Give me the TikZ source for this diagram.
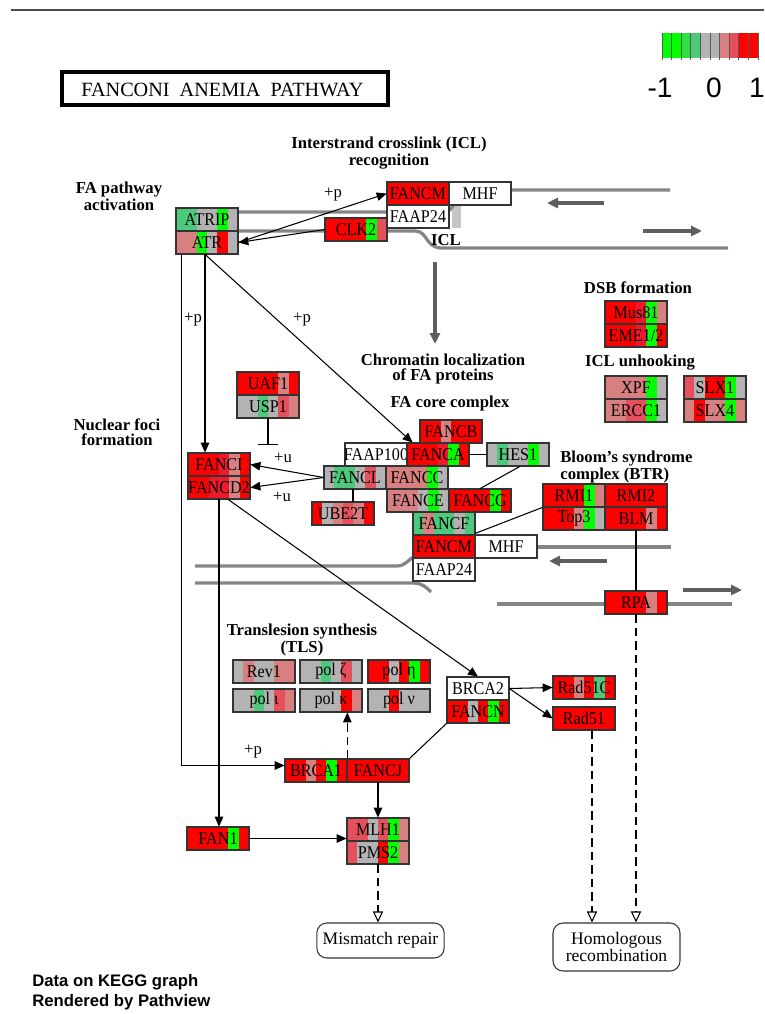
\documentclass[tikz,border=0pt]{standalone}
\usepackage{fontspec}
\setmainfont{Liberation Serif}
\setsansfont{Liberation Sans}
\newfontfamily\kegg[FakeStretch=0.9]{Liberation Serif}
\usetikzlibrary{arrows.meta,calc}

\definecolor{hR}{HTML}{FF0000}
\definecolor{hRa}{HTML}{EC1A2A}
\definecolor{hRp}{HTML}{E6505C}
\definecolor{hRl}{HTML}{D88080}
\definecolor{hGy}{HTML}{B3B3B3}
\definecolor{hGl}{HTML}{4CC97A}
\definecolor{hGm}{HTML}{30E040}
\definecolor{hG}{HTML}{00FF00}
\definecolor{hW}{HTML}{FFFFFF}
\definecolor{strandgray}{HTML}{858585}
\definecolor{arrowgray}{HTML}{5E5E5E}

\tikzset{
  boxline/.style={draw=black!80,line width=0.6pt},
  genetext/.style={minimum width=1.24cm,minimum height=0.46cm,inner sep=0pt,text=black,
    font=\kegg\fontsize{10.2}{10}\selectfont},
  head/.style={font=\bfseries\fontsize{9.5}{8.6}\selectfont,align=center,inner sep=0pt},
  plus/.style={font=\fontsize{9.5}{10}\selectfont,inner sep=0pt},
  conn/.style={line width=0.6pt},
  arr/.style={conn,-{Triangle[length=0.2cm,width=0.17cm]}},
  dasharr/.style={conn,dash pattern=on 0.17cm off 0.1cm,-{Triangle[open,length=0.22cm,width=0.2cm]}},
  strand/.style={strandgray,line width=0.065cm},
  band/.style={gray!45,line width=0.18cm},
  grayarrow/.style={arrowgray,line width=0.08cm,-{Triangle[length=0.22cm,width=0.2cm]}},
  pathbox/.style={draw=black!80,line width=0.6pt,rounded corners=0.2cm,align=center,
    font=\fontsize{10}{9.5}\selectfont}
}

% gene box: name, left x, top y, label, stripe colours (6)
\newcommand{\gene}[5]{%
  \fill[white] (#2,#3) rectangle ++(62,23);
  \foreach \sc [count=\i from 0] in {#5}
    \fill[\sc] ({#2+\i*62/6},#3) rectangle ++(62/6,23);
  \draw[boxline] (#2,#3) rectangle ++(62,23);
  \node[genetext] (#1) at ({#2+31},{#3+11.5}) {#4};
}

\begin{document}
\begin{tikzpicture}[x=0.02cm,y=-0.02cm]
\useasboundingbox (0,0) rectangle (764,1014);

% top rule and title
\draw[black!70,line width=0.6pt] (11,10) -- (764,10);
\draw[line width=1.8pt] (62,72) rectangle (388,105);
\node[anchor=west,inner sep=0pt,font=\fontsize{11.5}{12}\selectfont] (title) at (81,90) {FANCONI\ \ ANEMIA\ \ PATHWAY};

% legend
\foreach \sc [count=\i from 0] in {hG,hG,hGm,hGl,hGy,hGy,hRl,hRp,hR,hR}
  \fill[\sc] ({662+\i*9.6},33) rectangle ++(9.6,25);
\foreach \i in {0,...,10}
  \draw[black!65,line width=0.5pt] ({662+\i*9.6},33) -- ++(0,27);
\node[font=\sffamily\fontsize{16}{16}\selectfont,inner sep=0pt] (lmin) at (660,88) {-1};
\node[font=\sffamily\fontsize{16}{16}\selectfont,inner sep=0pt] (lzero) at (714,88) {0};
\node[font=\sffamily\fontsize{16}{16}\selectfont,inner sep=0pt] (lmax) at (757,88) {1};

% DNA strands (ICL recognition)
\draw[band] (456,202) -- (456,228);
\draw[strand] (238,212) -- (445,212) .. controls (455,212) and (455,190) .. (470,190) -- (670,190);
\draw[strand] (238,231) -- (415,231) .. controls (428,231) and (425,248) .. (442,248) -- (728,248);
\draw[grayarrow] (604,203) -- (547,203);
\draw[grayarrow] (643,231) -- (702,231);
\draw[grayarrow] (435,262) -- (435,344);
\node[head] (icl) at (446,240) {ICL};

% DNA strands (chromatin)
\draw[strand] (195,566) -- (397,566) .. controls (405,566) and (408,560) .. (415,556);
\draw[strand] (195,583) -- (413,583) .. controls (422,583) and (426,587) .. (431,592);
\draw[strand] (538,547) -- (671,547);
\draw[grayarrow] (607,561) -- (549,561);
\draw[strand] (497,604) -- (732,604);
\draw[grayarrow] (683,590) -- (742,590);

% section labels
\node[head] (lblicl) at (389,153) {Interstrand crosslink (ICL)\\recognition};
\node[head] (lblfa) at (119,196) {FA pathway\\activation};
\node[head] (lbldsb) at (638,288) {DSB formation};
\node[head] (lblchrom) at (443,369) {Chromatin localization\\of FA proteins};
\node[head] (lblunhook) at (640,363) {ICL unhooking};
\node[head] (lblcore) at (450,403) {FA core complex};
\node[head] (lblfoci) at (117,432) {Nuclear foci\\formation};
\node[head,anchor=west,align=left] (lblbtr) at (560,467) {Bloom's syndrome\\complex (BTR)};
\node[head] (lbltls) at (302,640) {Translesion synthesis\\(TLS)};

% genes
\gene{atrip}{176}{208}{ATRIP}{hGl,hGl,hGy,hGy,hG,hGy}
\gene{atr}{176}{231}{ATR}{hRl,hRl,hG,hGy,hR,hGy}
\gene{fancmA}{387}{182}{FANCM}{hR,hR,hR,hR,hR,hR}
\gene{mhfA}{449}{182}{MHF}{hW}
\gene{faapA}{387}{205}{FAAP24}{hW}
\gene{clk2}{325}{218}{CLK2}{hR,hR,hR,hR,hG,hRp}

\gene{mus81}{605}{301}{Mus81}{hR,hR,hR,hRa,hG,hRl}
\gene{eme}{605}{324}{EME1/2}{hR,hR,hR,hRa,hG,hR}
\gene{xpf}{605}{376}{XPF}{hRl,hRl,hRl,hRl,hG,hGy}
\gene{ercc1}{605}{399}{ERCC1}{hRl,hRl,hRp,hRp,hG,hGy}
\gene{slx1}{684}{376}{SLX1}{hRp,hGy,hR,hR,hG,hGy}
\gene{slx4}{684}{399}{SLX4}{hRl,hR,hRl,hRl,hG,hRl}

\gene{uaf1}{237}{372}{UAF1}{hR,hR,hR,hR,hRl,hR}
\gene{usp1}{237}{395}{USP1}{hGy,hGy,hGl,hGy,hRp,hRl}
\gene{fanci}{188}{453}{FANCI}{hR,hR,hR,hRa,hRl,hR}
\gene{fancd2}{188}{476}{FANCD2}{hR,hR,hRa,hRa,hRl,hR}

\gene{fancb}{420}{420}{FANCB}{hR,hR,hRl,hR,hR,hR}
\gene{faap100}{345}{443}{FAAP100}{hW}
\gene{fanca}{407}{443}{FANCA}{hR,hR,hR,hRa,hG,hR}
\gene{hes1}{487}{443}{HES1}{hGy,hGl,hGy,hGy,hG,hGy}
\gene{fancl}{324}{466}{FANCL}{hGy,hGl,hGl,hGy,hRp,hGy}
\gene{fancc}{386}{466}{FANCC}{hRl,hRl,hRl,hRl,hG,hGy}
\gene{fance}{387}{489}{FANCE}{hRl,hRl,hRl,hGy,hG,hGy}
\gene{fancg}{449}{489}{FANCG}{hR,hR,hR,hR,hG,hR}
\gene{ube2t}{312}{502}{UBE2T}{hR,hGy,hRl,hRp,hRl,hR}
\gene{fancf}{413}{512}{FANCF}{hGl,hRl,hGl,hGl,hGy,hGl}
\gene{fancmB}{413}{535}{FANCM}{hR,hR,hR,hR,hR,hR}
\gene{mhfB}{475}{535}{MHF}{hW}
\gene{faapB}{413}{558}{FAAP24}{hW}

\gene{rmi1}{543}{484}{RMI1}{hR,hR,hR,hR,hG,hRl}
\gene{rmi2}{605}{484}{RMI2}{hR,hR,hR,hR,hR,hR}
\gene{top3}{543}{507}{Top3}{hR,hR,hR,hRl,hG,hGy}
\gene{blm}{605}{507}{BLM}{hR,hR,hR,hR,hRl,hR}
\gene{rpa}{605}{591}{RPA}{hR,hR,hR,hR,hRl,hR}

\gene{rev1}{233}{660}{Rev1}{hGy,hRl,hGy,hGy,hRl,hRl}
\gene{polz}{300}{660}{pol ζ}{hGy,hGy,hGl,hGy,hRp,hGy}
\gene{pole}{368}{660}{pol η}{hR,hR,hGy,hR,hG,hR}
\gene{poli}{233}{689}{pol ι}{hGy,hGy,hGl,hGy,hRp,hRl}
\gene{polk}{300}{689}{pol κ}{hGy,hGy,hGy,hGy,hR,hRl}
\gene{poln}{368}{689}{pol ν}{hGy,hGy,hR,hGy,hGy,hGy}

\gene{brca2}{447}{677}{BRCA2}{hW}
\gene{fancn}{447}{700}{FANCN}{hR,hR,hGy,hR,hG,hR}
\gene{rad51c}{553}{676}{Rad51C}{hR,hR,hRl,hR,hGl,hR}
\gene{rad51}{553}{707}{Rad51}{hR,hR,hR,hR,hR,hR}
\gene{brca1}{285}{759}{BRCA1}{hR,hR,hRl,hR,hG,hR}
\gene{fancj}{347}{759}{FANCJ}{hR,hR,hR,hR,hR,hR}
\gene{fan1}{187}{827}{FAN1}{hR,hR,hR,hR,hG,hR}
\gene{mlh1}{347}{818}{MLH1}{hRp,hRp,hGy,hRp,hG,hRl}
\gene{pms2}{347}{841}{PMS2}{hRp,hGy,hGy,hR,hG,hRl}

% pathway boxes
\node[pathbox,minimum width=2.54cm,minimum height=0.7cm] (mmr) at (380.5,940.5) {Mismatch repair};
\node[pathbox,minimum width=2.54cm,minimum height=0.96cm] (hr) at (616.5,947) {Homologous\\recombination};

% relations
\draw[arr] (atr.east) -- (fancmA.west);
\draw[arr] (clk2.west) -- (atr.east);
\node[plus] (pA) at (333,195) {+p};
\coordinate (atrdn) at ($(atr.south)+(-2,0)$);
\draw[arr] (atrdn) -- (atrdn |- fanci.north);
\node[plus] (pB) at (193,320) {+p};
\draw[arr] (atrdn) -- ($(fanca.north west)+(6,0)$);
\node[plus] (pC) at (302,320) {+p};
\coordinate (atrout) at ($(atr.south west)+(6,0)$);
\draw[arr] (atrout) |- ($(brca1.west)+(0,-5)$);
\node[plus] (pD) at (253,752) {+p};

\draw[conn,-{Bar[width=0.4cm]}] (usp1.south) -- ++(0,27);
\draw[arr] (fancl.west) -- (fanci.east);
\draw[arr] (fancl.west) -- (fancd2.east);
\node[plus] (uA) at (283,458) {+u};
\node[plus] (uB) at (282,497) {+u};
\coordinate (fancldn) at ($(fancl.south)+(-2,0)$);
\draw[conn] (fancldn) -- (fancldn |- ube2t.north);
\draw[conn] (fanca.east) -- (hes1.west);
\draw[conn] ($(hes1.south)+(2,0)$) -- (fancg.north);
\draw[conn] ($(fancf.south east)+(0,-2)$) -- (rmi1.south west);

\draw[arr] ($(fancd2.south)+(9,0)$) -- (brca2.north);
\draw[arr] (fancd2.south) -- (fancd2.south |- fan1.north);
\draw[arr] (fan1.east) -- (fan1.east -| mlh1.west);
\draw[arr] (fancj.south) -- (fancj.south |- mlh1.north);
\coordinate (tlsup) at (brca1.north east);
\draw[conn,dash pattern=on 0.17cm off 0.1cm,-{Triangle[length=0.2cm,width=0.17cm]}]
  (tlsup) -- (tlsup |- polk.south);
\draw[conn] (fancj.north east) -- (fancn.south west);
\draw[arr] (brca2.east) -- (rad51c.west);
\draw[arr] (brca2.east) -- (rad51.west);
\coordinate (r51out) at ($(rad51.south)+(8,0)$);
\draw[dasharr] (r51out) -- (r51out |- hr.north);
\draw[conn] (blm.south) -- (rpa.north);
\draw[dasharr] (rpa.south) -- (rpa.south |- hr.north);
\draw[dasharr] (pms2.south) -- (pms2.south |- mmr.north);

% footer
\node[anchor=north west,align=left,inner sep=0pt,font=\sffamily\bfseries\fontsize{9.5}{11.5}\selectfont] (credit) at (32,974) {Data on KEGG graph\\Rendered by Pathview};
\end{tikzpicture}
\end{document}
